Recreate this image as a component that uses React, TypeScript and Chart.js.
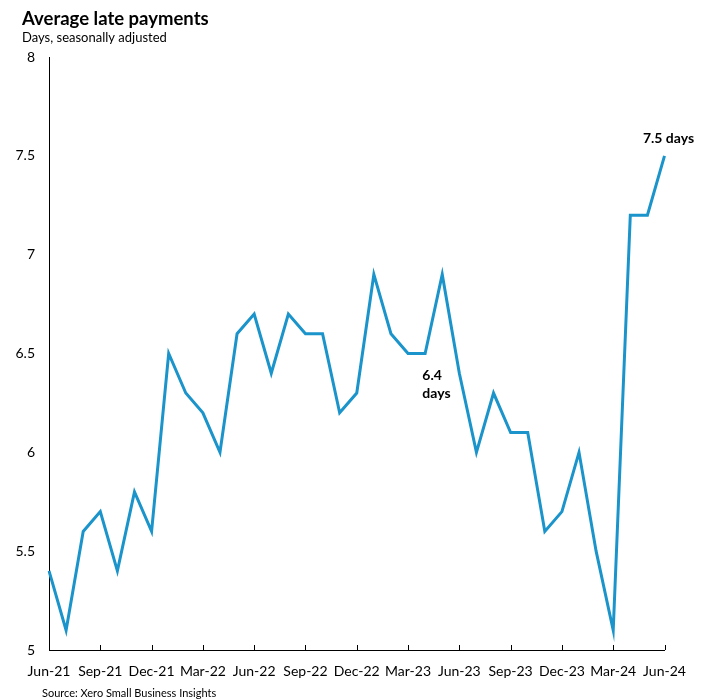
import React, { useEffect, useRef } from "react";
import { Chart, registerables } from "chart.js";

Chart.register(...registerables);

const months = [
  "Jun-21", "Jul-21", "Aug-21", "Sep-21", "Oct-21", "Nov-21", "Dec-21",
  "Jan-22", "Feb-22", "Mar-22", "Apr-22", "May-22", "Jun-22", "Jul-22", "Aug-22", "Sep-22", "Oct-22", "Nov-22", "Dec-22",
  "Jan-23", "Feb-23", "Mar-23", "Apr-23", "May-23", "Jun-23", "Jul-23", "Aug-23", "Sep-23", "Oct-23", "Nov-23", "Dec-23",
  "Jan-24", "Feb-24", "Mar-24", "Apr-24", "May-24", "Jun-24",
];

const lateDays = [
  5.4, 5.1, 5.6, 5.7, 5.4, 5.8, 5.6,
  6.5, 6.3, 6.2, 6.0, 6.6, 6.7, 6.4, 6.7, 6.6, 6.6, 6.2, 6.3,
  6.9, 6.6, 6.5, 6.5, 6.9, 6.4, 6.0, 6.3, 6.1, 6.1, 5.6, 5.7,
  6.0, 5.5, 5.1, 7.2, 7.2, 7.5,
];

const yTicks = [5, 5.5, 6, 6.5, 7, 7.5, 8];

const TITLE = "Average late payments";
const SUBTITLE = "Days, seasonally adjusted";
const SOURCE = "Source: Xero Small Business Insights";
const NOTE_MID = ["6.4", "days"];
const NOTE_MID_INDEX = 24;
const NOTE_END = "7.5 days";

const FONT = "Lato, 'Open Sans', sans-serif";
const LINE_COLOR = "#1a94ca";

export default function App() {
  const ref = useRef<HTMLCanvasElement>(null);

  useEffect(() => {
    if (!ref.current) return;

    const overlay = {
      id: "overlay",
      afterDraw(chart: any) {
        const ctx = chart.ctx;
        const xs = chart.scales.x;
        const ys = chart.scales.y;
        const area = chart.chartArea;
        ctx.save();
        // Titles
        ctx.fillStyle = "#000";
        ctx.textAlign = "left";
        ctx.textBaseline = "alphabetic";
        ctx.font = `bold 18.5px ${FONT}`;
        ctx.fillText(TITLE, 22, 24.5);
        ctx.font = `13px ${FONT}`;
        ctx.fillText(SUBTITLE, 22, 42);
        ctx.font = `11px ${FONT}`;
        ctx.fillText(SOURCE, 42, 697);

        // Quarter tick marks (pointing up from axis)
        ctx.strokeStyle = "#000";
        ctx.lineWidth = 1;
        for (let i = 3; i < months.length; i += 3) {
          const x = Math.round(xs.getPixelForValue(i)) + 0.5;
          ctx.beginPath();
          ctx.moveTo(x, area.bottom);
          ctx.lineTo(x, area.bottom - 5);
          ctx.stroke();
        }

        // Annotations
        ctx.font = `bold 14px ${FONT}`;
        const mx = xs.getPixelForValue(NOTE_MID_INDEX);
        const my = ys.getPixelForValue(lateDays[NOTE_MID_INDEX]);
        ctx.textAlign = "left";
        ctx.fillText(NOTE_MID[0], mx - 37, my + 7);
        ctx.fillText(NOTE_MID[1], mx - 37, my + 25);

        const last = lateDays.length - 1;
        const ex = xs.getPixelForValue(last);
        const ey = ys.getPixelForValue(lateDays[last]);
        ctx.textAlign = "center";
        ctx.fillText(NOTE_END, ex + 4, ey - 13);
        ctx.restore();
      },
    };

    const chart = new Chart(ref.current, {
      type: "line",
      data: {
        labels: months,
        datasets: [
          {
            data: lateDays,
            borderColor: LINE_COLOR,
            borderWidth: 3,
            pointRadius: 0,
            tension: 0,
            fill: false,
          },
        ],
      },
      options: {
        responsive: false,
        animation: false,
        layout: { padding: { top: 57, right: 41.5, bottom: 0, left: 0 } },
        plugins: {
          legend: { display: false },
          tooltip: { enabled: false },
          title: { display: false },
        },
        scales: {
          x: {
            type: "category",
            offset: false,
            grid: { display: false, drawTicks: false },
            border: { display: true, color: "#000", width: 1 },
            ticks: {
              autoSkip: false,
              maxRotation: 0,
              minRotation: 0,
              padding: 13,
              color: "#000",
              font: { family: FONT, size: 14 },
              callback: (_v: any, i: number) => (i % 3 === 0 ? months[i] : ""),
            },
            afterFit: (s: any) => {
              s.height = 50;
            },
          },
          y: {
            min: yTicks[0],
            max: yTicks[yTicks.length - 1],
            afterBuildTicks: (s: any) => {
              s.ticks = yTicks.map((v) => ({ value: v }));
            },
            grid: { display: false, drawTicks: false },
            border: { display: true, color: "#000", width: 1 },
            ticks: {
              padding: 14,
              color: "#000",
              font: { family: FONT, size: 14 },
              callback: (v: any) => `${Number(v)}`,
            },
            afterFit: (s: any) => {
              s.width = 49;
            },
          },
        },
      },
      plugins: [overlay],
    } as any);

    return () => chart.destroy();
  }, []);

  return (
    <div style={{ position: "absolute", left: 0, top: 0, width: 706, height: 700, background: "#fff" }}>
      <canvas ref={ref} width={706} height={700} style={{ display: "block", width: 706, height: 700 }} />
    </div>
  );
}
